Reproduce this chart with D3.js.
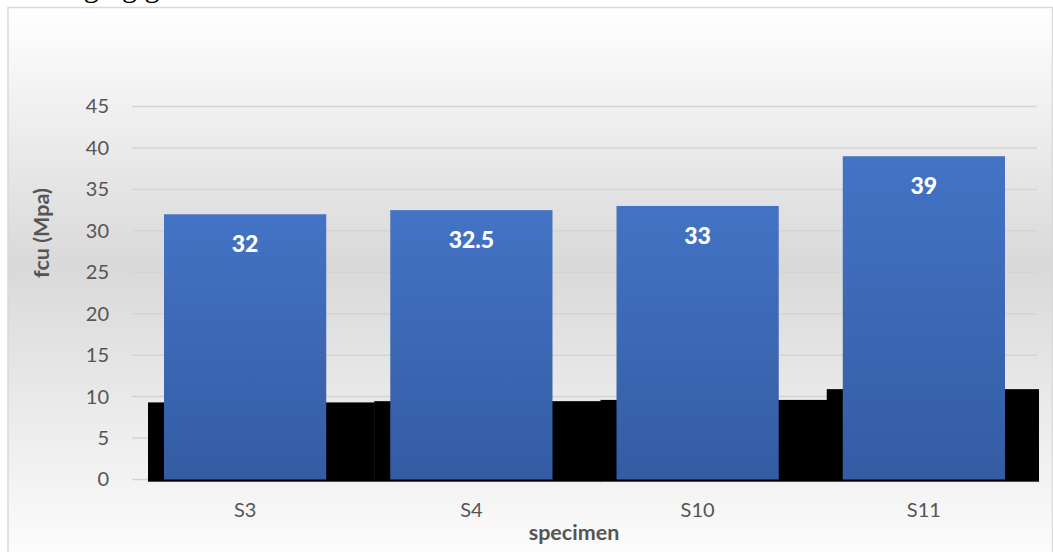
<!DOCTYPE html>
<html>
<head>
<meta charset="utf-8">
<script src="https://cdn.jsdelivr.net/npm/d3@7"></script>
<style>
  html, body { margin: 0; padding: 0; background: #ffffff; }
  svg { display: block; }
</style>
</head>
<body>
<svg id="chart" width="1053" height="552"></svg>
<script>
// Compressive strength per specimen
const specimens = ["S3", "S4", "S10", "S11"];
const fcu = [32, 32.5, 33, 39];
// Dark base layer drawn behind the columns
const baseLayer = [9.3, 9.45, 9.6, 10.9];
const yTicks = [0, 5, 10, 15, 20, 25, 30, 35, 40, 45];

const W = 1053, H = 552;
const plot = { left: 132, right: 1037, top: 106.5, bottom: 479.5 };
const FONT = "Lato, 'Open Sans', sans-serif";

const svg = d3.select("#chart");
const defs = svg.append("defs");

// Chart area background: light vertical gradient
const bg = defs.append("linearGradient").attr("id", "bgGrad")
  .attr("x1", 0).attr("y1", 0).attr("x2", 0).attr("y2", 1);
bg.append("stop").attr("offset", "0%").attr("stop-color", "#ffffff");
bg.append("stop").attr("offset", "45%").attr("stop-color", "#d9d9d9");
bg.append("stop").attr("offset", "100%").attr("stop-color", "#ffffff");

const barGrad = defs.append("linearGradient").attr("id", "barGrad")
  .attr("x1", 0).attr("y1", 0).attr("x2", 0).attr("y2", 1);
barGrad.append("stop").attr("offset", "0%").attr("stop-color", "#4473c5");
barGrad.append("stop").attr("offset", "100%").attr("stop-color", "#335ca3");

defs.append("clipPath").attr("id", "baseClip")
  .append("rect").attr("x", 0).attr("y", 0).attr("width", 1039).attr("height", H);

// Text line of the surrounding page, mostly above the frame
svg.append("text")
  .attr("x", 62).attr("y", -3)
  .attr("font-family", "Liberation Serif, serif")
  .attr("font-size", 30)
  .attr("fill", "#000")
  .text("laging g");

// Chart frame
svg.append("rect")
  .attr("x", 8).attr("y", 7.5).attr("width", W - 8.5).attr("height", H + 20)
  .attr("fill", "url(#bgGrad)")
  .attr("stroke", "#d9d9d9").attr("stroke-width", 1.5);

const x = d3.scaleBand().domain(specimens)
  .range([plot.left, plot.right]).paddingInner(0.283).paddingOuter(0.1415);
const xBase = d3.scaleBand().domain(specimens)
  .range([plot.left + 16, plot.right + 16]).padding(0);
const y = d3.scaleLinear().domain([0, 45]).range([plot.bottom, plot.top]);

// Horizontal gridlines
svg.append("g").selectAll("line").data(yTicks).join("line")
  .attr("x1", plot.left).attr("x2", plot.right)
  .attr("y1", d => y(d)).attr("y2", d => y(d))
  .attr("stroke", "#d4d4d4").attr("stroke-width", 1.5);

// Y axis labels
const yAxis = d3.axisLeft(y).tickValues(yTicks).tickSize(0).tickPadding(0);
const gy = svg.append("g").attr("transform", `translate(109,0)`).call(yAxis);
gy.select(".domain").remove();
gy.selectAll("text")
  .attr("font-family", FONT)
  .attr("font-size", 20).attr("fill", "#555555");

// Dark base layer
svg.append("g").attr("clip-path", "url(#baseClip)")
  .selectAll("rect").data(baseLayer).join("rect")
  .attr("x", (d, i) => xBase(specimens[i]))
  .attr("width", xBase.bandwidth() + 0.5)
  .attr("y", d => y(d))
  .attr("height", d => y(0) - y(d) + 2.2)
  .attr("fill", "#000");

// Columns
svg.append("g").selectAll("rect").data(fcu).join("rect")
  .attr("x", (d, i) => x(specimens[i]))
  .attr("width", x.bandwidth())
  .attr("y", d => y(d))
  .attr("height", d => y(0) - y(d))
  .attr("fill", "url(#barGrad)");

// Value labels inside the columns
svg.append("g").selectAll("text").data(fcu).join("text")
  .attr("x", (d, i) => x(specimens[i]) + x.bandwidth() / 2)
  .attr("y", d => y(d) + 38)
  .attr("text-anchor", "middle")
  .attr("font-family", FONT)
  .attr("font-weight", "900")
  .attr("font-size", 23)
  .attr("fill", "#ffffff")
  .text(d => d);

// X axis labels
const xAxis = d3.axisBottom(x).tickSize(0).tickPadding(0);
const gx = svg.append("g").attr("transform", `translate(0,${plot.bottom + 23})`).call(xAxis);
gx.select(".domain").remove();
gx.selectAll("text")
  .attr("font-family", FONT)
  .attr("font-size", 20).attr("fill", "#555555");

// Axis titles
svg.append("text")
  .attr("x", 574).attr("y", 540)
  .attr("text-anchor", "middle")
  .attr("font-family", FONT)
  .attr("font-weight", "bold").attr("font-size", 21.5)
  .attr("fill", "#555555")
  .text("specimen");

svg.append("text")
  .attr("transform", "translate(49,233) rotate(-90)")
  .attr("text-anchor", "middle")
  .attr("font-family", FONT)
  .attr("font-weight", "bold").attr("font-size", 21.5)
  .attr("fill", "#555555")
  .text("fcu (Mpa)");
</script>
</body>
</html>
